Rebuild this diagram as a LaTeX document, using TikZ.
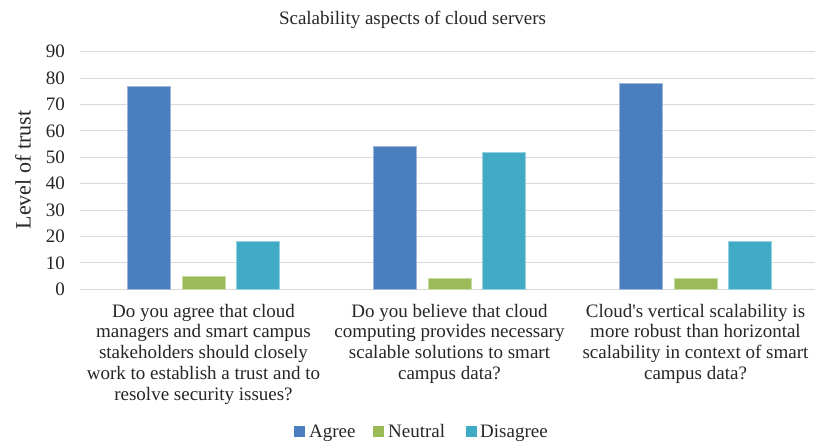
\documentclass[tikz,border=0pt]{standalone}
\usepackage{fontspec}
\setmainfont{Liberation Serif}
\definecolor{agree}{HTML}{4A7EBF}
\definecolor{neutral}{HTML}{9BBB59}
\definecolor{disagree}{HTML}{41ABC6}
\definecolor{gridgray}{HTML}{D9D9D9}
\definecolor{txt}{HTML}{262626}

\begin{document}
\begin{tikzpicture}[x=1pt,y=1pt,
    lbl/.style={font=\fontsize{19}{20.7}\selectfont,text=txt,inner sep=0pt},
    bar/.style={fill=#1,draw=#1!55!white,line width=0.7pt}]
   \useasboundingbox (0,0) rectangle (815,445) ;
   % grid, zero at 155.7, 2.64 per unit
   \foreach \v in {0,10,...,90}
   {
      \draw[gridgray,line width=1pt] (80,155.7+2.64*\v) -- (815,155.7+2.64*\v) ;
      \node[lbl,anchor=east] (tick\v) at (65,155.7+2.64*\v) {\v} ;
   }
   % bars : centre / agree / neutral / disagree
   \foreach \cx/\a/\n/\d in {203.5/77/5/18, 449.5/54/4/52, 695.5/78/4/18}
   {
      \draw[bar=agree] (\cx-76,155.7) rectangle (\cx-33,155.7+2.64*\a) ;
      \draw[bar=neutral] (\cx-21.5,155.7) rectangle (\cx+21.5,155.7+2.64*\n) ;
      \draw[bar=disagree] (\cx+33,155.7) rectangle (\cx+76,155.7+2.64*\d) ;
   }
   % titles
   \node[lbl,anchor=base] (title) at (412.5,420) {Scalability aspects of cloud servers} ;
   \node[lbl,font=\fontsize{22}{24}\selectfont,rotate=90] (ytitle) at (23,275) {Level of trust} ;
   % category labels (base = last line)
   \node[lbl,anchor=base,align=center] (qa) at (203.5,44.9)
      {Do you agree that cloud\\managers and smart campus\\stakeholders should closely\\work to establish a trust and to\\resolve security issues?} ;
   \node[lbl,anchor=base,align=center] (qb) at (449.5,65.6)
      {Do you believe that cloud\\computing provides necessary\\scalable solutions to smart\\campus data?} ;
   \node[lbl,anchor=base,align=center] (qc) at (695.5,65.6)
      {Cloud\textquotesingle s vertical scalability is\\more robust than horizontal\\scalability in context of smart\\campus data?} ;
   % legend
   \fill[agree] (294,7.5) rectangle (305,18.5) ;
   \node[lbl,anchor=base west] (lagree) at (309,7) {Agree} ;
   \fill[neutral] (373,7.5) rectangle (384,18.5) ;
   \node[lbl,anchor=base west] (lneutral) at (388,7) {Neutral} ;
   \fill[disagree] (466,7.5) rectangle (477,18.5) ;
   \node[lbl,anchor=base west] (ldisagree) at (480,7) {Disagree} ;
\end{tikzpicture}
\end{document}
